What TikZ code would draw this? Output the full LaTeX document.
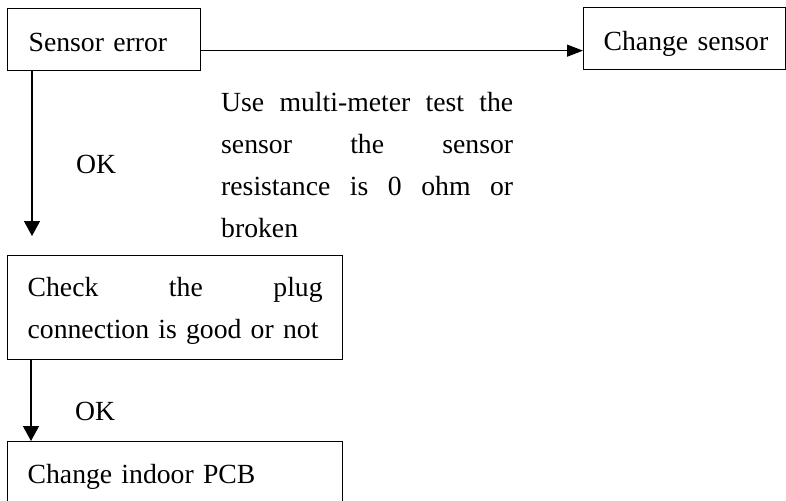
\documentclass[tikz,border=0pt]{standalone}
\usepackage{fontspec}
\setmainfont{Liberation Serif}
\usetikzlibrary{arrows.meta}
\begin{document}
\begin{tikzpicture}[x=1pt,y=-1pt,
  every node/.style={font=\fontsize{27.7pt}{41.7pt}\selectfont},
  box/.style={draw,line width=1.3pt,anchor=north west,inner ysep=0pt,inner xsep=20pt,align=left},
  lbl/.style={inner sep=0pt,anchor=base west},
  varr/.style={line width=1.3pt,-{Triangle[length=15pt,width=16pt]}},
  harr/.style={line width=1.3pt,-{Triangle[length=16pt,width=12pt]}}]
\useasboundingbox (0,0) rectangle (786,500);
\clip (0,0) rectangle (786,500);
\node[box,inner xsep=21pt,text width=151pt,text height=43pt,text depth=19pt] (se) at (7,8) {\mbox{Sensor error}};
\node[box,text width=162pt,text height=43pt,text depth=19pt] (cs) at (583,7) {\mbox{Change sensor}};
\node[box,text width=295pt,text height=41pt,text depth=63pt] (chk) at (7,255)
  {\makebox[295pt][s]{Check \hfill the \hfill plug}\\\mbox{connection is good or not}};
\node[box,text width=295pt,text height=42pt,text depth=40pt] (pcb) at (7,441) {\mbox{Change indoor PCB}};
\node[lbl,text width=292pt,align=left] (txt) at (221,112)
  {\makebox[292pt][s]{Use \hfill multi-meter \hfill test \hfill the}\\
   \makebox[292pt][s]{sensor \hfill the \hfill sensor}\\
   \makebox[292pt][s]{resistance \hfill is \hfill 0 \hfill ohm \hfill or}\\
   broken};
\node[lbl] (ok1) at (76,173) {OK};
\node[lbl] (ok2) at (75,420) {OK};
\draw[harr] ([yshift=-11pt]se.east) -- ([yshift=-11pt]se.east -| cs.west);
\draw[varr,shorten >=19pt] ([xshift=25pt]se.south west) -- ([xshift=25pt]se.south west |- chk.north);
\draw[varr] ([xshift=24pt]chk.south west) -- ([xshift=24pt]chk.south west |- pcb.north);
\end{tikzpicture}
\end{document}
